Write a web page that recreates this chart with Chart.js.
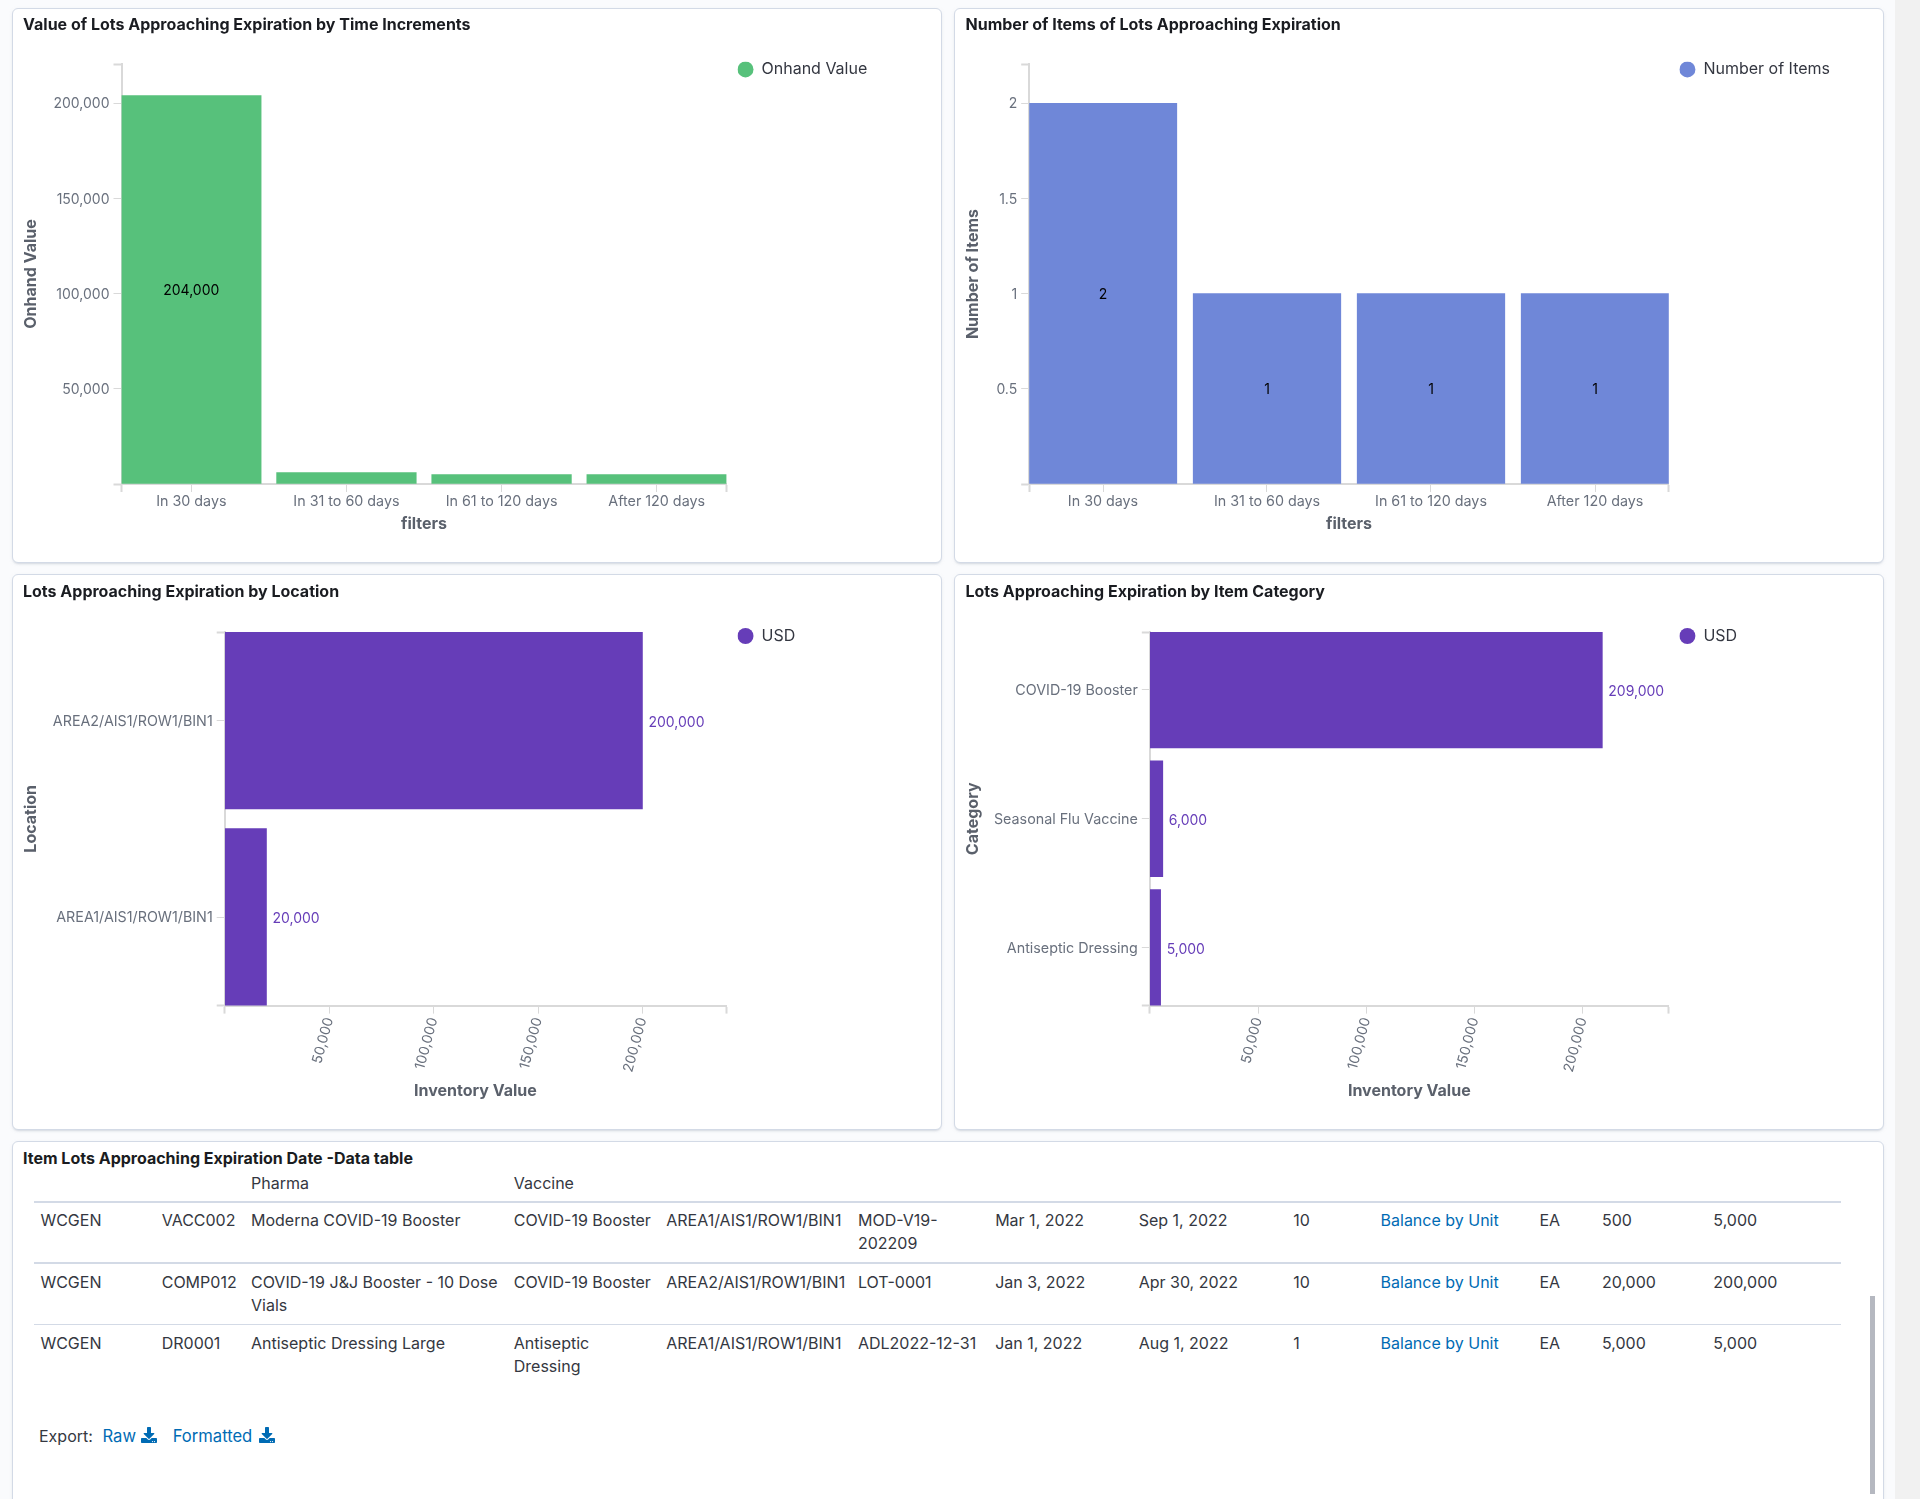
<!DOCTYPE html>
<html><head><meta charset="utf-8">
<script src="https://cdn.jsdelivr.net/npm/chart.js@4"></script>
<style>
html,body{margin:0;padding:0;width:1920px;height:1499px;overflow:hidden;background:#fafbfd;font-family:Inter,sans-serif}
.strip{position:absolute;left:1895px;top:0;width:25px;height:1499px;background:#f1f1f1}
.panel{position:absolute;box-sizing:border-box;background:#fff;border:1px solid #d3dae6;border-radius:6px;box-shadow:0 2px 2px -1px rgba(152,162,179,.3),0 1px 5px -2px rgba(152,162,179,.3)}
canvas{position:absolute;display:block}
.ptitle{position:absolute;font:700 16px/20px Inter,sans-serif;color:#1a1c21;white-space:nowrap}
table{position:absolute;left:34px;top:1172px;border-collapse:collapse;table-layout:fixed;width:1807px;font:400 16px/23.4px Inter,sans-serif;color:#343741}
td,th{padding:0;vertical-align:top;white-space:pre;font-weight:400;text-align:left}
thead th{height:29px;border-bottom:2px solid #d3dae6;padding-top:0}
tbody td{padding-top:7px}
tbody tr.a td{padding-top:6px}
tbody tr{height:61px}
tr.a{border-bottom:2px solid #d3dae6}
tr.b{border-bottom:1px solid #d3dae6}
a{color:#006bb4;text-decoration:none}
.exp{position:absolute;font:400 16px/20px Inter,sans-serif;color:#343741;white-space:nowrap}
.exp a{font-size:16.6px}
.exp svg{position:absolute;width:16px;height:16px;fill:#006bb4}
.sb{position:absolute;left:1870px;top:1296px;width:5px;height:198px;background:#b5b8c0}
</style></head><body>
<div class="strip"></div>
<div class="panel" style="left:12px;top:8px;width:930px;height:555px"></div>
<div class="panel" style="left:954px;top:8px;width:930px;height:555px"></div>
<div class="panel" style="left:12px;top:574px;width:930px;height:556px"></div>
<div class="panel" style="left:954px;top:574px;width:930px;height:556px"></div>
<div class="panel" style="left:12px;top:1141px;width:1872px;height:400px"></div>
<canvas id="c1" style="left:13px;top:9px"></canvas>
<canvas id="c2" style="left:955px;top:9px"></canvas>
<canvas id="c3" style="left:13px;top:575px"></canvas>
<canvas id="c4" style="left:955px;top:575px"></canvas>
<div class="ptitle" style="left:23px;top:14px">Value of Lots Approaching Expiration by Time Increments</div>
<div class="ptitle" style="left:965.5px;top:14px">Number of Items of Lots Approaching Expiration</div>
<div class="ptitle" style="left:23px;top:581px">Lots Approaching Expiration by Location</div>
<div class="ptitle" style="left:965.5px;top:581px">Lots Approaching Expiration by Item Category</div>
<div class="ptitle" style="left:23px;top:1148px">Item Lots Approaching Expiration Date -Data table</div>
<table id="tbl"></table>
<div class="exp" style="left:39px;top:1426px">Export:</div>
<div class="exp" style="left:102.5px;top:1426px"><a href="#">Raw</a><svg style="left:38.5px;top:1px" viewBox="0 0 512 512"><path d="M216 0h80c13.3 0 24 10.7 24 24v168h87.7c17.8 0 26.7 21.5 14.1 34.1L269.7 378.3c-7.5 7.5-19.8 7.5-27.3 0L90.1 226.1c-12.6-12.6-3.7-34.1 14.1-34.1H192V24c0-13.3 10.7-24 24-24zm296 376v112c0 13.3-10.7 24-24 24H24c-13.3 0-24-10.7-24-24V376c0-13.3 10.7-24 24-24h146.7l49 49c20.1 20.1 52.5 20.1 72.6 0l49-49H488c13.3 0 24 10.7 24 24zm-124 88c0-11-9-20-20-20s-20 9-20 20 9 20 20 20 20-9 20-20zm64 0c0-11-9-20-20-20s-20 9-20 20 9 20 20 20 20-9 20-20z"/></svg></div>
<div class="exp" style="left:172.7px;top:1426px"><a href="#">Formatted</a><svg style="left:86.5px;top:1px" viewBox="0 0 512 512"><path d="M216 0h80c13.3 0 24 10.7 24 24v168h87.7c17.8 0 26.7 21.5 14.1 34.1L269.7 378.3c-7.5 7.5-19.8 7.5-27.3 0L90.1 226.1c-12.6-12.6-3.7-34.1 14.1-34.1H192V24c0-13.3 10.7-24 24-24zm296 376v112c0 13.3-10.7 24-24 24H24c-13.3 0-24-10.7-24-24V376c0-13.3 10.7-24 24-24h146.7l49 49c20.1 20.1 52.5 20.1 72.6 0l49-49H488c13.3 0 24 10.7 24 24zm-124 88c0-11-9-20-20-20s-20 9-20 20 9 20 20 20 20-9 20-20zm64 0c0-11-9-20-20-20s-20 9-20 20 9 20 20 20 20-9 20-20z"/></svg></div>
<div class="sb"></div>
<script>
// ---- data ----
const filterLabels = ['In 30 days','In 31 to 60 days','In 61 to 120 days','After 120 days'];
const onhandValues = [204000,6000,5000,5000];
const itemCounts = [2,1,1,1];
const locationLabels = ['AREA2/AIS1/ROW1/BIN1','AREA1/AIS1/ROW1/BIN1'];
const locationValues = [200000,20000];
const categoryLabels = ['COVID-19 Booster','Seasonal Flu Vaccine','Antiseptic Dressing'];
const categoryValues = [209000,6000,5000];
const onhandTicks = [50000,100000,150000,200000];
const itemTicks = [0.5,1,1.5,2];
const inventoryTicks = [50000,100000,150000,200000];
const tableHeader = ['','','Pharma','Vaccine','','','','','','','','',''];
const tableRows = [
 ['WCGEN','VACC002','Moderna COVID-19 Booster','COVID-19 Booster','AREA1/AIS1/ROW1/BIN1','MOD-V19-\n202209','Mar 1, 2022','Sep 1, 2022','10','Balance by Unit','EA','500','5,000'],
 ['WCGEN','COMP012','COVID-19 J&J Booster - 10 Dose\nVials','COVID-19 Booster','AREA2/AIS1/ROW1/BIN1','LOT-0001','Jan 3, 2022','Apr 30, 2022','10','Balance by Unit','EA','20,000','200,000'],
 ['WCGEN','DR0001','Antiseptic Dressing Large','Antiseptic\nDressing','AREA1/AIS1/ROW1/BIN1','ADL2022-12-31','Jan 1, 2022','Aug 1, 2022','1','Balance by Unit','EA','5,000','5,000']
];
const columnStarts = [40.4,161.7,251,513.8,666.3,858,995.2,1138.7,1293.3,1380.6,1539.5,1602,1713.4];

// ---- table ----
(function(){
  const t=document.getElementById('tbl');
  const esc=s=>s.replace(/&/g,'&amp;');
  let cg='<colgroup>';
  columnStarts.forEach((x,i)=>{const l=i?x:34;const r=i<columnStarts.length-1?columnStarts[i+1]:1841;cg+=`<col style="width:${r-l}px">`});
  cg+='</colgroup>';
  let h='<thead><tr>'+tableHeader.map((c,i)=>`<th style="${i?'':'padding-left:6.4px'}">${c}</th>`).join('')+'</tr></thead><tbody>';
  tableRows.forEach((r,ri)=>{
    h+=`<tr class="${ri==0?'a':ri==1?'b':''}">`+r.map((c,i)=>`<td style="${i?'':'padding-left:6.4px'}">${i==9?'<a href="#">'+c+'</a>':esc(c)}</td>`).join('')+'</tr>';
  });
  t.innerHTML=cg+h+'</tbody>';
})();

// ---- charts ----
const FONT='Inter, sans-serif', AXIS='#d9d9d9', TICKC='#69707d', TITLEC='#5a606b', BOXW=16;
const fmt=v=>Number(v).toLocaleString('en-US');
Chart.defaults.font.family=FONT;
Chart.defaults.animation=false;

const labelPlugin={id:'valueLabels',afterDatasetsDraw(chart,a,o){
  const ctx=chart.ctx, meta=chart.getDatasetMeta(0), ds=chart.data.datasets[0], h=o.horizontal;
  ctx.save();ctx.font='14px '+FONT;
  meta.data.forEach((el,i)=>{
    const v=h?ds.data[i].x:ds.data[i].y;
    if(h){ctx.fillStyle=o.color;ctx.textAlign='left';ctx.textBaseline='middle';ctx.fillText(fmt(v),el.x+6,el.y+o.dy);}
    else if(Math.abs(el.base-el.y)>20){ctx.fillStyle='#000';ctx.textAlign='center';ctx.textBaseline='middle';ctx.fillText(fmt(v),el.x,(el.y+el.base)/2+1);}
  });
  ctx.restore();
}};
const legendPlugin={id:'legendPlace',afterLayout(chart,a,o){
  const l=chart.legend;l.left=o.x;l.right=o.x+220;l.top=o.y-8;l.bottom=o.y+14;
}};
const edgeTickWidth=c=>(c.index===0||c.index===c.scale.ticks.length-1)?2:1;

function make(id,cfg){
  const cv=document.getElementById(id);
  const W=cfg.panelW,H=cfg.panelH;cv.width=W;cv.height=H;
  const n=cfg.labels.length, horiz=!!cfg.horizontal;
  const idx=cfg.labels.map((_,i)=>i);
  const plotW=cfg.plot.r-cfg.plot.l, plotH=cfg.plot.b-cfg.plot.t;
  const band=(horiz?plotH:plotW)/(n-0.1);
  const data=cfg.values.map((v,i)=>horiz?{x:v,y:i}:{x:i,y:v});
  const gridOpts={offset:false,drawOnChartArea:false,color:AXIS,tickColor:AXIS,tickLength:8,tickWidth:edgeTickWidth};
  const indexScale={type:'linear',offset:false,min:-0.45,max:n-1+0.45,reverse:horiz,
    afterBuildTicks:s=>{s.ticks=[-0.45,...idx,n-1+0.45].map(v=>({value:v}));},
    ticks:{autoSkip:false,maxRotation:0,color:TICKC,font:{size:14.3},padding:horiz?4:cfg.tickPadX,labelOffset:horiz?1:0,
      callback:v=>Number.isInteger(v)?cfg.labels[v]:''},
    grid:gridOpts,
    border:{color:AXIS,width:2},
    title:{display:true,text:cfg.indexTitle,color:TITLEC,font:{size:16,weight:'bold'},padding:0}};
  const valueScale={type:'linear',min:0,max:cfg.max,
    afterBuildTicks:s=>{s.ticks=[0,...cfg.ticks,cfg.max].map(v=>({value:v}));},
    ticks:{autoSkip:false,color:TICKC,font:{size:14},padding:horiz?cfg.tickPadX:4,labelOffset:horiz?0:1,
      minRotation:horiz?75:0,maxRotation:horiz?75:0,
      callback:v=>cfg.ticks.includes(v)?fmt(v):''},
    grid:gridOpts,
    border:{color:AXIS,width:2},
    title:{display:true,text:cfg.valueTitle,color:TITLEC,font:{size:16,weight:'bold'},padding:0}};
  const xS=horiz?valueScale:indexScale, yS=horiz?indexScale:valueScale;
  const yWidth=cfg.plot.l-cfg.padL, xHeight=cfg.xTitleBottom-cfg.plot.b;
  xS.afterFit=s=>{s.height=xHeight;};
  yS.afterFit=s=>{s.width=yWidth;};
  return new Chart(cv,{type:'bar',
    data:{datasets:[{label:cfg.series,data,backgroundColor:cfg.color,borderWidth:0,
      barThickness:band*0.9}]},
    options:{indexAxis:horiz?'y':'x',responsive:false,maintainAspectRatio:false,
      layout:{padding:{left:cfg.padL,top:cfg.plot.t,right:W-cfg.plot.r,bottom:H-cfg.xTitleBottom}},
      scales:{x:xS,y:yS},
      plugins:{tooltip:{enabled:false},
        legend:{display:true,position:'chartArea',align:'start',
          labels:{usePointStyle:true,pointStyle:'circle',pointStyleWidth:BOXW,boxHeight:11.3,padding:0,color:'#343741',font:{size:16}}},
        valueLabels:{horizontal:horiz,color:cfg.labelColor||'#663db8',dy:2},
        legendPlace:{x:cfg.legendX,y:cfg.legendY}}},
    plugins:[labelPlugin,legendPlugin]});
}
const P={panelW:928,panelH:553};
make('c1',{...P,labels:filterLabels,values:onhandValues,ticks:onhandTicks,max:220600,series:'Onhand Value',color:'#57c17b',
  indexTitle:'filters',valueTitle:'Onhand Value',padL:9,tickPadX:1,xTitleBottom:525,
  plot:{l:108.5,r:713.5,t:55,b:475},legendX:724.5,legendY:60.4});
make('c2',{...P,labels:filterLabels,values:itemCounts,ticks:itemTicks,max:2.206,series:'Number of Items',color:'#6f87d8',
  indexTitle:'filters',valueTitle:'Number of Items',padL:9,tickPadX:1,xTitleBottom:525,
  plot:{l:74.2,r:713.8,t:55,b:475},legendX:724.4,legendY:60.4});
make('c3',{...P,labels:locationLabels,values:locationValues,ticks:inventoryTicks,max:240000,series:'USD',color:'#663db8',horizontal:true,
  indexTitle:'Location',valueTitle:'Inventory Value',padL:9,tickPadX:2,xTitleBottom:526,
  plot:{l:211.7,r:713,t:57,b:430.6},legendX:724.5,legendY:61});
make('c4',{...P,labels:categoryLabels,values:categoryValues,ticks:inventoryTicks,max:239700,series:'USD',color:'#663db8',horizontal:true,
  indexTitle:'Category',valueTitle:'Inventory Value',padL:9,tickPadX:2,xTitleBottom:526,
  plot:{l:194.8,r:713.8,t:57,b:430.6},legendX:724.4,legendY:61});
</script>
</body></html>
